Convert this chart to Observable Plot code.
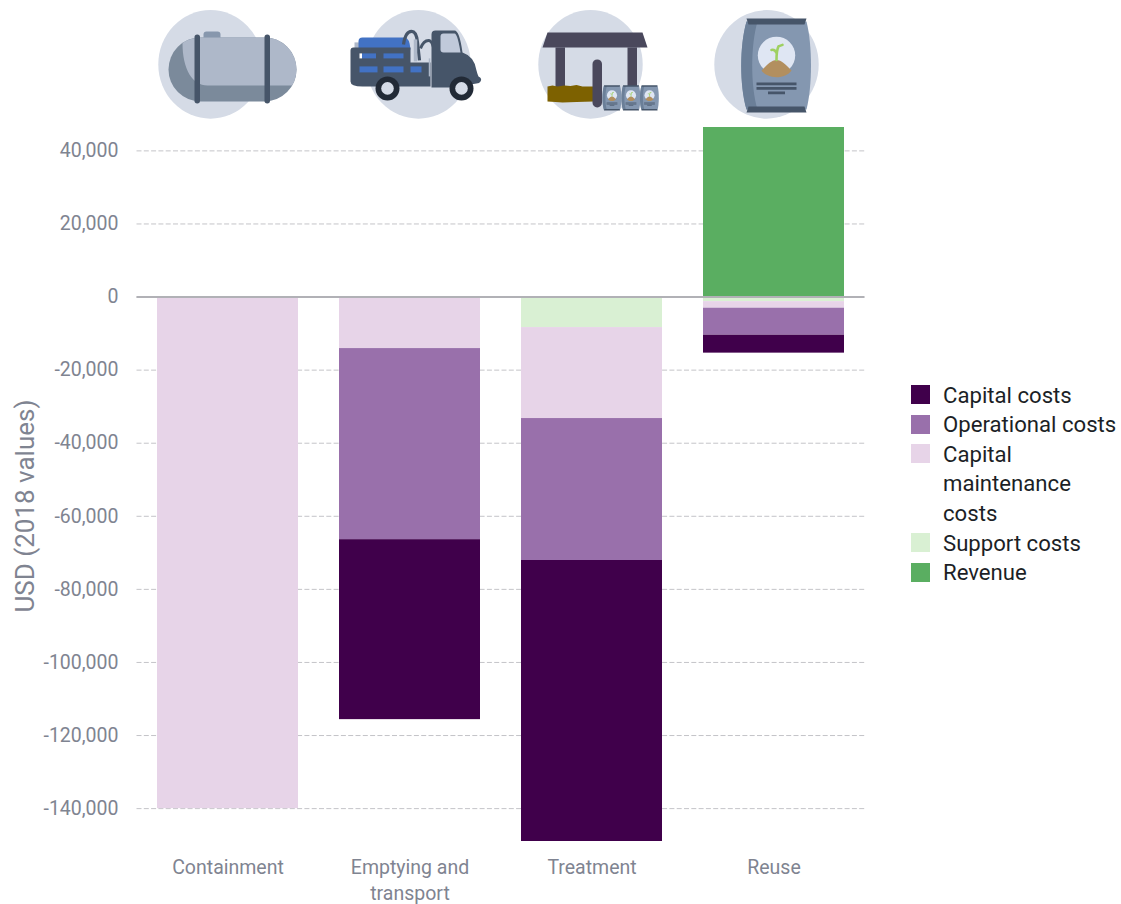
<!DOCTYPE html>
<html>
<head>
<meta charset="utf-8">
<script src="https://cdn.jsdelivr.net/npm/d3@7"></script>
<script src="https://cdn.jsdelivr.net/npm/@observablehq/plot@0.6"></script>
<style>
  html, body { margin: 0; padding: 0; background: #fff; }
  #chart { position: relative; width: 1121px; height: 904px; overflow: hidden; font-family: Roboto, sans-serif; }
  #chart svg { display: block; }
  #legend { position: absolute; left: 911px; top: 380.6px; width: 210px; color: #1c1f26; font-size: 22.15px; line-height: 29.6px; }
  #legend .row { position: relative; padding-left: 32px; white-space: nowrap; }
  #legend .swatch { position: absolute; left: 0; top: 4.5px; width: 19px; height: 19px; }
</style>
</head>
<body>
<div id="chart"></div>
<script>
// Stages of the sanitation chain and the cost lines for each, in USD (2018 values).
const stages = ["Containment", "Emptying and transport", "Treatment", "Reuse"];
const stageLabels = ["Containment", "Emptying and\ntransport", "Treatment", "Reuse"];
const legendOrder = ["Capital costs", "Operational costs", "Capital maintenance costs", "Support costs", "Revenue"];
const legendLines = ["Capital costs", "Operational costs", "Capital<br>maintenance<br>costs", "Support costs", "Revenue"];
const legendColors = ["#40004b", "#9970ab", "#e7d4e8", "#d9f0d3", "#5aae61"];

const supportCosts = [0, 0, -8350, -1250];
const maintenanceCosts = [-140000, -14100, -24900, -1800];
const operationalCosts = [0, -52300, -38850, -7400];
const capitalCosts = [0, -49250, -76900, -4900];
const revenue = [0, 0, 0, 46400];

const yTicks = [40000, 20000, 0, -20000, -40000, -60000, -80000, -100000, -120000, -140000];

// Segments listed from the zero line outwards, so the stack grows in that order.
const series = [
  ["Support costs", supportCosts],
  ["Capital maintenance costs", maintenanceCosts],
  ["Operational costs", operationalCosts],
  ["Capital costs", capitalCosts],
  ["Revenue", revenue]
];
const rows = series.flatMap(([name, values]) =>
  values.map((value, i) => ({stage: stages[i], name, value}))
);

// Small pictograms above each column, centred relative to the band of their stage.
const disc = "#d5dbe6", slate = "#465569", steel = "#7b8a9b", pale = "#aeb8c9", blue = "#4272c4", roof = "#4a485c";
const backdrop = `<ellipse rx="52.2" ry="54.3" fill="${disc}"/>`;

const bagIcon = (s) => `<g transform="scale(${s})">
  <path d="M-30,-44 C-37,-20 -37,20 -30,44 L30,44 C36,20 36,-20 30,-44 Z" fill="#8497b0"/>
  <path d="M-30,-44 C-37,-20 -37,20 -30,44 L-19,44 C-26,20 -26,-20 -19,-44 Z" fill="#6b7f98"/>
  <path d="M-30,-47 L30,-47 L28,-41 L-28,-41 Z M-28,41 L28,41 L30,47 L-30,47 Z" fill="${slate}"/>
  <circle cx="0" cy="-10" r="18.7" fill="#dfe6f3"/>
  <path d="M-15,5 C-9,-1 -5,-5.5 0,-5.5 C5,-5.5 9,-1 15,5 C9,14 -9,14 -15,5 Z" fill="#b28f5f"/>
  <path d="M0,-5.5 C0,-11 0,-15 2,-19 M0.3,-12 C-1,-15 -3,-16 -5,-15.5 M2,-19 L6,-20.5" stroke="#9ed062" stroke-width="2.6" fill="none" stroke-linecap="round"/>
  <path d="M-20,18.5 L20,18.5 M-20,23 L20,23 M-8.5,27.5 L8.5,27.5" stroke="${slate}" stroke-width="2.6"/>
</g>`;

const icons = [
  {dx: -17, svg: `${backdrop}
    <rect x="-42" y="-27" width="128" height="64" rx="32" fill="${steel}"/>
    <path d="M-28,-21.5 A32,32 0 0 1 -10,-27 L54,-27 A32,32 0 0 1 81.7,21 L-3,21 C-18,21 -28,5 -28,-21.5 Z" fill="${pale}"/>
    <path d="M-7,-27 L-7,-30 Q-7,-33 -4,-33 L7,-33 Q10,-33 10,-30 L10,-27 Z" fill="#8797ad"/>
    <rect x="-16" y="-30" width="5.5" height="69" rx="2.7" fill="${slate}"/>
    <rect x="54" y="-30" width="5.5" height="69" rx="2.7" fill="${slate}"/>`},
  {dx: 9, svg: `${backdrop}
    <rect x="-64" y="-22" width="10" height="8" fill="${pale}"/>
    <path d="M-60,-15 L-60,-23 Q-60,-27 -56,-27 L-14,-27 Q-9,-27 -8,-15 Z" fill="${blue}"/>
    <path d="M-15,-20 Q-13,-33 -7,-33 Q-2,-33 -1,-22 L1,-4" stroke="${slate}" stroke-width="3.2" fill="none"/>
    <path d="M2,-16 Q5,-24 10,-24 Q15,-24 17,-5" stroke="${slate}" stroke-width="3" fill="none"/>
    <path d="M-3,-25 L-3,-3" stroke="${pale}" stroke-width="3.5"/>
    <path d="M-68,-14 Q-68,-17 -65,-17 L-8,-17 L-8,-2 L12,-2 L12,22 L-56,22 Q-68,22 -68,17 Z" fill="${slate}"/>
    <rect x="-59" y="-11" width="2.5" height="5" fill="#fff"/>
    <rect x="-56.5" y="-11" width="14" height="5" fill="${blue}"/>
    <rect x="-35" y="-11" width="20" height="5" fill="${blue}"/>
    <rect x="-59" y="2" width="18" height="6" fill="${blue}"/>
    <rect x="-35" y="2" width="20" height="6" fill="${blue}"/>
    <rect x="-8" y="2" width="11" height="6" fill="${blue}"/>
    <path d="M13,21 L13,-30 Q13,-34 17,-34 L36,-34 Q41,-34 44,-12 Q56,-8 58,6 Q59,10 60,12 Q64,14 62,17 Q61,19 58,19 L52,20 L46,23 L13,23 Z" fill="${slate}"/>
    <path d="M22,-28 Q22,-31 25,-31 L36,-31 Q39,-31 42,-12 L25,-12 Q22,-12 22,-15 Z" fill="#c0c9da"/>
    <path d="M11,-6 L11,12" stroke="${pale}" stroke-width="1.5"/>
    <circle cx="-31" cy="24" r="12" fill="#222a36"/><circle cx="-31" cy="24" r="6.3" fill="${disc}"/>
    <circle cx="43" cy="24" r="12" fill="#222a36"/><circle cx="43" cy="24" r="6.3" fill="${disc}"/>`},
  {dx: -1, svg: `${backdrop}
    <path d="M-43,-32 L52,-32 L57,-17 L-48,-17 Z" fill="${roof}"/>
    <rect x="-35" y="-17" width="9.5" height="40" fill="${roof}"/>
    <rect x="37" y="-17" width="9.5" height="40" fill="${roof}"/>
    <path d="M-43,22 L-38,21 L-33,22 L-26,21 L-20,21.5 L-14,20.5 L-8,22 L3,22 L3,37 L-14,37.5 L-28,38 L-35,37.5 L-43,37 Z" fill="#7d6100"/>
    <rect x="2" y="-5" width="9.5" height="48" rx="4.7" fill="${roof}"/>
    <g transform="translate(21.5,33.5)">${bagIcon(0.27)}</g>
    <g transform="translate(40.5,33.5)">${bagIcon(0.27)}</g>
    <g transform="translate(59,33.5)">${bagIcon(0.27)}</g>`},
  {dx: -7, svg: `${backdrop}<g transform="translate(10,1)">${bagIcon(1)}</g>`}
];

const pictograms = (index, {x}, values, dimensions, context) => {
  const svgNS = "http://www.w3.org/2000/svg";
  const group = context.document.createElementNS(svgNS, "g");
  group.setAttribute("aria-label", "stage pictograms");
  icons.forEach((icon, i) => {
    const item = context.document.createElementNS(svgNS, "g");
    item.setAttribute("transform", `translate(${x(stages[i]) + x.bandwidth() / 2 + icon.dx},64.4)`);
    item.innerHTML = icon.svg;
    group.appendChild(item);
  });
  return group;
};

const labelColor = "#7f8491";
const formatTick = (d) => d.toLocaleString("en-US");

const plot = Plot.plot({
  width: 1121,
  height: 904,
  marginLeft: 136.5,
  marginRight: 256.5,
  marginTop: 127,
  marginBottom: 63,
  style: {fontFamily: "Roboto, sans-serif", background: "#fff", overflow: "visible"},
  x: {domain: stages, paddingInner: 0.2253, paddingOuter: 0.1126, label: null},
  y: {domain: [-149000, 46400], label: null},
  color: {domain: legendOrder, range: legendColors},
  marks: [
    Plot.gridY(yTicks, {stroke: "#c4c4c8", strokeOpacity: 1, strokeWidth: 1, strokeDasharray: "5,2.3"}),
    Plot.barY(rows, {x: "stage", y: "value", fill: "name", order: null, inset: 0}),
    Plot.ruleY([0], {stroke: "#b1b1b6", strokeWidth: 2}),
    Plot.axisY(yTicks, {
      tickSize: 0, tickPadding: 18.5, anchor: "left",
      fontSize: 19.5, fill: labelColor, label: null,
      tickFormat: formatTick
    }),
    Plot.axisX(stages, {
      tickSize: 0, tickPadding: 14, fontSize: 19.5, fill: labelColor, label: null, lineHeight: 1.33,
      lineAnchor: "top",
      tickFormat: (d) => stageLabels[stages.indexOf(d)]
    }),
    pictograms
  ]
});

const chart = document.getElementById("chart");
chart.appendChild(plot);

// Rotated axis title, set in the SVG next to the tick labels.
const title = document.createElementNS("http://www.w3.org/2000/svg", "text");
title.setAttribute("transform", "translate(34,506) rotate(-90)");
title.setAttribute("text-anchor", "middle");
title.setAttribute("font-size", "26");
title.setAttribute("fill", labelColor);
title.textContent = "USD (2018 values)";
plot.appendChild(title);

// Legend, built from the same colour list as the bars.
const legend = document.createElement("div");
legend.id = "legend";
legend.innerHTML = legendLines.map((line, i) =>
  `<div class="row"><span class="swatch" style="background:${legendColors[i]}"></span>${line}</div>`
).join("");
chart.appendChild(legend);
</script>
</body>
</html>
